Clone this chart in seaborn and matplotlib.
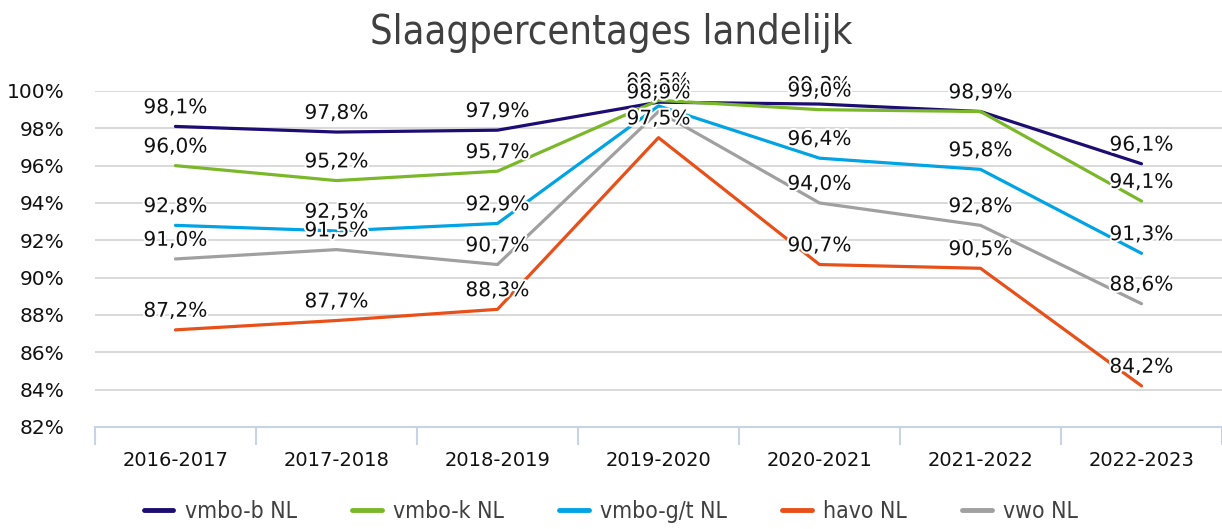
import numpy as np
import pandas as pd
import seaborn as sns
import matplotlib.pyplot as plt
import matplotlib.patheffects as pe

years = ['2016-2017', '2017-2018', '2018-2019', '2019-2020', '2020-2021', '2021-2022', '2022-2023']
vmbo_b = [98.1, 97.8, 97.9, 99.4, 99.3, 98.9, 96.1]
vmbo_k = [96.0, 95.2, 95.7, 99.5, 99.0, 98.9, 94.1]
vmbo_gt = [92.8, 92.5, 92.9, 99.2, 96.4, 95.8, 91.3]
havo = [87.2, 87.7, 88.3, 97.5, 90.7, 90.5, 84.2]
vwo = [91.0, 91.5, 90.7, 98.9, 94.0, 92.8, 88.6]

series = {
    'vmbo-b NL': vmbo_b,
    'vmbo-k NL': vmbo_k,
    'vmbo-g/t NL': vmbo_gt,
    'havo NL': havo,
    'vwo NL': vwo,
}
palette = {
    'vmbo-b NL': '#1d0c72',
    'vmbo-k NL': '#7ab82a',
    'vmbo-g/t NL': '#00a3e4',
    'havo NL': '#e8501a',
    'vwo NL': '#a0a0a0',
}

rows = []
for name, vals in series.items():
    for i, v in enumerate(vals):
        rows.append([name, i, v])
df = pd.DataFrame(rows, columns=['serie', 'x', 'pct'])

sns.set_style('white')
plt.rcParams['font.family'] = ['DejaVu Sans']

fig = plt.figure(figsize=(12.22, 5.29), dpi=100)
ax = fig.add_axes([0.0777, 0.193, 0.9223, 0.635])

sns.lineplot(data=df, x='x', y='pct', hue='serie', hue_order=list(series.keys()),
             palette=palette, linewidth=2.3, ax=ax, legend=False)
for line in ax.lines:
    line.set_clip_on(False)

# data labels boven de punten, met witte rand zoals in Excel
halo = [pe.withStroke(linewidth=3, foreground='white')]
for name, vals in series.items():
    for i, v in enumerate(vals):
        ax.annotate(f'{v:.1f}%'.replace('.', ','), (i, v), xytext=(0, 9.5),
                    textcoords='offset points', ha='center', va='baseline',
                    fontsize=14.5, color='#111111', path_effects=halo,
                    annotation_clip=False)

ax.set_xlim(-0.5, 6.5)
ax.set_ylim(82, 100)
ax.set_yticks(np.arange(82, 101, 2))
ax.set_yticklabels([f'{t}%' for t in range(82, 101, 2)])
ax.set_xticks(range(len(years)))
ax.set_xticklabels(years)
ax.set_xticks(np.arange(-0.5, 7, 1), minor=True)
ax.set_xlabel('')
ax.set_ylabel('')

for t in range(84, 101, 2):
    ax.axhline(t, color='#d9d9d9', linewidth=1.4, zorder=0)

for s in ['top', 'right', 'left']:
    ax.spines[s].set_visible(False)
ax.spines['bottom'].set_color('#c9d3e8')
ax.spines['bottom'].set_linewidth(1.5)

ax.tick_params(axis='y', length=0, pad=22, labelsize=14.5, labelcolor='#111111')
ax.tick_params(axis='x', which='major', bottom=False, length=0, pad=17, labelsize=14,
               labelcolor='#111111')
ax.tick_params(axis='x', which='minor', bottom=True, length=13, width=1.5,
               color='#c9d3e8', direction='out')

fig.text(0.5, 0.938, 'Slaagpercentages landelijk', ha='center', va='center',
         fontsize=28.5, color='#404040', fontstretch='condensed')

handles = [plt.Line2D([], [], color=palette[n], linewidth=3.5) for n in series]
fig.legend(handles, list(series.keys()), loc='lower center', bbox_to_anchor=(0.5, -0.028),
           ncol=5, frameon=False, handlelength=1.3, columnspacing=2.4, handletextpad=0.5,
           prop={'size': 16.5, 'stretch': 'condensed'}, labelcolor='#404040')

fig.savefig('out.png', dpi=100)
